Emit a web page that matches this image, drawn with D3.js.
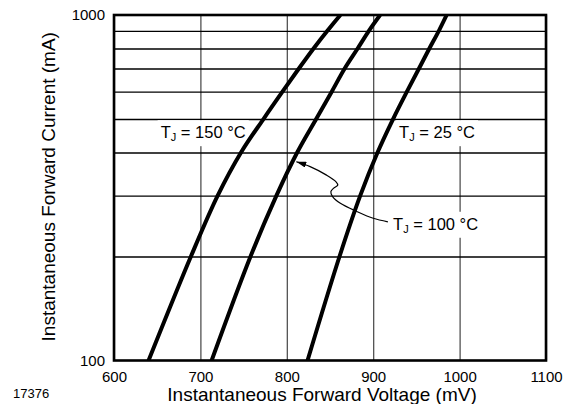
<!DOCTYPE html>
<html>
<head>
<meta charset="utf-8">
<script src="https://cdn.jsdelivr.net/npm/d3@7"></script>
<style>
  body { margin: 0; background: #fff; }
  svg { font-family: "Liberation Sans", Arial, Helvetica, sans-serif; }
</style>
</head>
<body>
<svg id="chart"></svg>
<script>
// forward current (mA) at which the curves were read
const current = [100, 200, 300, 400, 500, 600, 700, 800, 900, 1000];

// forward voltage (mV) for each junction temperature
const vf150 = [640, 689, 720, 747, 773, 795, 814, 831, 847, 862];
const vf100 = [713, 758, 788, 812, 834, 852, 867, 882, 895, 908];
const vf25 = [824, 861, 885, 905, 923, 939, 953, 965, 976, 985];

const xTicks = [600, 700, 800, 900, 1000, 1100];
const yGrid = [200, 300, 400, 500, 600, 700, 800, 900];
const yTickLabels = [100, 1000];

// callout line for the 100 °C curve, in data units
const arrowV = [917, 900, 881, 862, 853, 851, 854, 859, 857, 846, 827, 811];
const arrowI = [252, 258, 270, 285, 298, 308, 315, 322, 329, 344, 364, 376];

const labels = [
    { name: "150 °C", v: 654, i: 440 },
    { name: "25 °C", v: 930, i: 440 },
    { name: "100 °C", v: 923, i: 239 }
];

const margin = { top: 15, right: 20, bottom: 43.5, left: 114 };
const width = 566 - margin.left - margin.right;
const height = 404 - margin.top - margin.bottom;

const root = d3.select("#chart")
    .attr("width", 566)
    .attr("height", 404);

const svg = root.append("g")
    .attr("transform", `translate(${margin.left},${margin.top})`);

const xScale = d3.scaleLinear([600, 1100], [0, width]);
const yScale = d3.scaleLog([100, 1000], [height, 0]);

svg.append("clipPath")
    .attr("id", "plot-area")
    .append("rect")
    .attr("width", width)
    .attr("height", height);

// vertical grid
svg.append("g")
    .attr("transform", `translate(0,${height})`)
    .call(d3.axisBottom(xScale).tickValues(xTicks).tickSize(-height).tickFormat(""))
    .call(g => g.select(".domain").remove())
    .call(g => g.selectAll("line").attr("stroke", "#444").attr("stroke-width", 1.2));

// horizontal grid
svg.append("g")
    .call(d3.axisLeft(yScale).tickValues(yGrid).tickSize(-width).tickFormat(""))
    .call(g => g.select(".domain").remove())
    .call(g => g.selectAll("line").attr("stroke", "#000").attr("stroke-width", 1.3));

// tick labels
svg.append("g")
    .attr("transform", `translate(0,${height})`)
    .call(d3.axisBottom(xScale).tickValues(xTicks).tickSize(0).tickPadding(11).tickFormat(d3.format("d")))
    .call(g => g.select(".domain").remove())
    .call(g => g.selectAll("text").attr("font-size", 15).attr("font-family", null).attr("fill", "#000"));

svg.append("g")
    .call(d3.axisLeft(yScale).tickValues(yTickLabels).tickSize(0).tickPadding(9).tickFormat(d3.format("d")))
    .call(g => g.select(".domain").remove())
    .call(g => g.selectAll("text").attr("font-size", 15).attr("font-family", null).attr("fill", "#000"));

// labels with white backing (drawn under the curves)
labels.forEach(l => {
    const t = svg.append("text")
        .attr("x", xScale(l.v))
        .attr("y", yScale(l.i))
        .attr("font-size", 16.5)
        .attr("fill", "#000");
    t.append("tspan").text("T");
    t.append("tspan").attr("font-size", 11).attr("dy", 3).text("J");
    t.append("tspan").attr("dy", -3).text(" = " + l.name);
    const bb = t.node().getBBox();
    svg.insert("rect", () => t.node())
        .attr("x", bb.x - 3)
        .attr("y", bb.y - 3)
        .attr("width", bb.width + 6)
        .attr("height", bb.height + 6)
        .attr("fill", "#fff");
});

// curves
const line = d3.line()
    .x(d => xScale(d[0]))
    .y(d => yScale(d[1]))
    .curve(d3.curveCatmullRom);

[vf150, vf100, vf25].forEach(vals => {
    svg.append("path")
        .datum(vals.map((v, k) => [v, current[k]]))
        .attr("clip-path", "url(#plot-area)")
        .attr("fill", "none")
        .attr("stroke", "#000")
        .attr("stroke-width", 4)
        .attr("d", line);
});

// arrow
root.append("defs").append("marker")
    .attr("id", "head")
    .attr("markerUnits", "userSpaceOnUse")
    .attr("viewBox", "0 0 10 6")
    .attr("refX", 10)
    .attr("refY", 3)
    .attr("markerWidth", 10)
    .attr("markerHeight", 6)
    .attr("orient", "auto")
    .append("path")
    .attr("d", "M0,0L10,3L0,6Z")
    .attr("fill", "#000");

svg.append("path")
    .datum(arrowV.map((v, k) => [v, arrowI[k]]))
    .attr("fill", "none")
    .attr("stroke", "#000")
    .attr("stroke-width", 1.2)
    .attr("marker-end", "url(#head)")
    .attr("d", d3.line().x(d => xScale(d[0])).y(d => yScale(d[1])).curve(d3.curveCatmullRom));

// frame
svg.append("rect")
    .attr("width", width)
    .attr("height", height)
    .attr("fill", "none")
    .attr("stroke", "#000")
    .attr("stroke-width", 2.6);

// axis titles
svg.append("text")
    .attr("x", 208)
    .attr("y", height + 40.5)
    .attr("text-anchor", "middle")
    .attr("font-size", 19)
    .text("Instantaneous Forward Voltage (mV)");

svg.append("text")
    .attr("transform", "rotate(-90)")
    .attr("x", -(height / 2) + 1)
    .attr("y", -59)
    .attr("text-anchor", "middle")
    .attr("font-size", 19)
    .text("Instantaneous Forward Current (mA)");

root.append("text")
    .attr("x", 13)
    .attr("y", 398)
    .attr("font-size", 13)
    .text("17376");
</script>
</body>
</html>
